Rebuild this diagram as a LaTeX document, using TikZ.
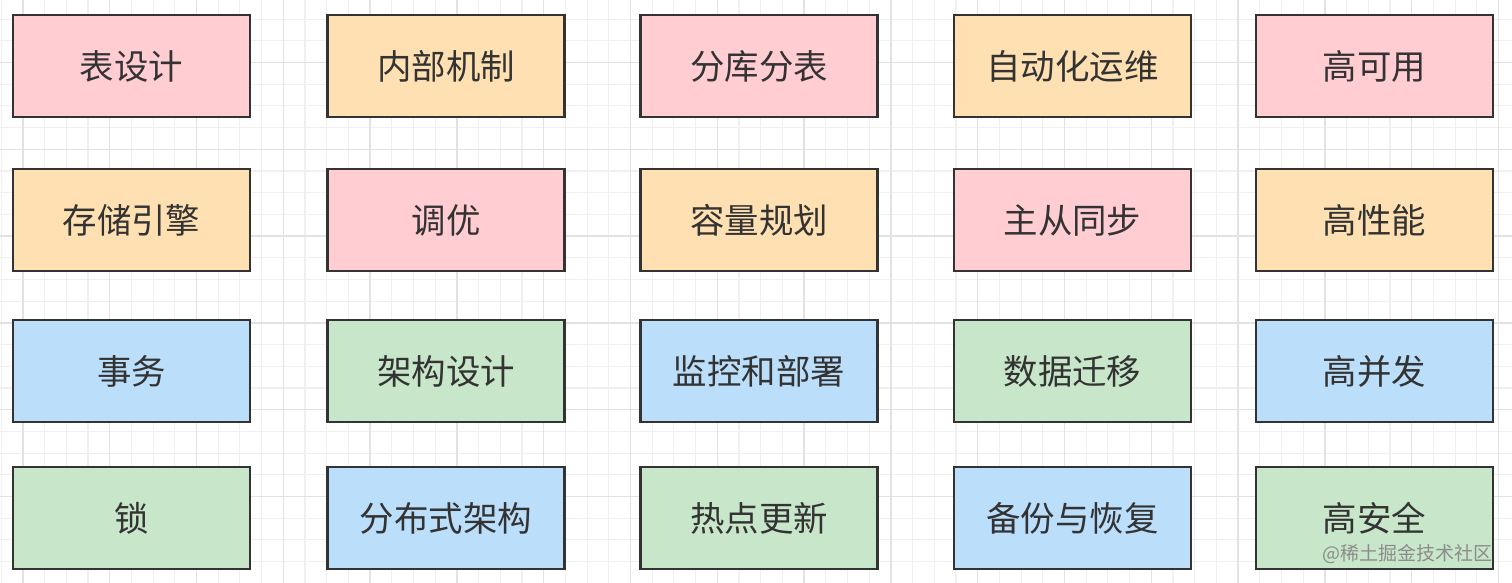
\documentclass[tikz,border=0pt]{standalone}
\usepackage{fontspec}
\usepackage{xcolor}
\usepackage{tikz}
\usetikzlibrary{positioning}
\newfontfamily\cjk{Noto Sans CJK SC}
\definecolor{tpink}{HTML}{FFCDD2}
\definecolor{tpeach}{HTML}{FFE0B2}
\definecolor{tblue}{HTML}{BBDEFB}
\definecolor{tgreen}{HTML}{C8E6C9}
\definecolor{tdark}{HTML}{333333}
\definecolor{gminor}{HTML}{F0F0F0}
\definecolor{gmajor}{HTML}{E2E2E2}

\begin{document}
\begin{tikzpicture}[x=1cm, y=-1cm,
  box/.style={draw=tdark, line width=0.75pt, text=tdark, align=center,
              minimum width=2.37cm, minimum height=1.02cm, inner sep=0pt,
              font=\cjk\fontsize{9.8}{12}\selectfont},
  pinkbox/.style={box, fill=tpink},
  peachbox/.style={box, fill=tpeach},
  bluebox/.style={box, fill=tblue},
  greenbox/.style={box, fill=tgreen}]
  \useasboundingbox (0,0) rectangle (15.12,5.83);
  % background grid
  \foreach \gx in {0,...,69} {
    \draw[gminor, line width=0.3pt] ({0.012+0.217*\gx},0) -- ++(0,5.83);
  }
  \foreach \gy in {0,...,26} {
    \draw[gminor, line width=0.3pt] (0,{0.191+0.217*(\gy-1)}) -- ++(15.12,0);
  }
  \foreach \gx in {0,...,17} {
    \draw[gmajor, line width=0.4pt] ({0.229+0.868*\gx},0) -- ++(0,5.83);
  }
  \foreach \gy in {0,...,6} {
    \draw[gmajor, line width=0.4pt] (0,{0.625+0.868*(\gy-1)}) -- ++(15.12,0);
  }

  % row 1
  \node[pinkbox]  (table)   at (1.315,0.66) {表设计};
  \node[peachbox] (inner)   at (4.46,0.66)  {内部机制};
  \node[pinkbox]  (shard)   at (7.59,0.66)  {分库分表};
  \node[peachbox] (autoops) at (10.725,0.66) {自动化运维};
  \node[pinkbox]  (ha)      at (13.745,0.66) {高可用};
  % row 2
  \node[peachbox] (engine)  at (1.315,2.20) {存储引擎};
  \node[pinkbox]  (tune)    at (4.46,2.20)  {调优};
  \node[peachbox] (cap)     at (7.59,2.20)  {容量规划};
  \node[pinkbox]  (repl)    at (10.725,2.20) {主从同步};
  \node[peachbox] (perf)    at (13.745,2.20) {高性能};
  % row 3
  \node[bluebox]  (txn)     at (1.315,3.71) {事务};
  \node[greenbox] (arch)    at (4.46,3.71)  {架构设计};
  \node[bluebox]  (monitor) at (7.59,3.71)  {监控和部署};
  \node[greenbox] (migrate) at (10.725,3.71) {数据迁移};
  \node[bluebox]  (conc)    at (13.745,3.71) {高并发};
  % row 4
  \node[greenbox] (lock)    at (1.315,5.18) {锁};
  \node[bluebox]  (dist)    at (4.46,5.18)  {分布式架构};
  \node[greenbox] (hot)     at (7.59,5.18)  {热点更新};
  \node[bluebox]  (backup)  at (10.725,5.18) {备份与恢复};
  \node[greenbox] (sec)     at (13.745,5.18) {高安全};

  \node[anchor=east, text=black!45, inner sep=0pt,
        font=\cjk\fontsize{5.4}{6}\selectfont] (mark) at (14.93,5.54) {@稀土掘金技术社区};
\end{tikzpicture}
\end{document}
